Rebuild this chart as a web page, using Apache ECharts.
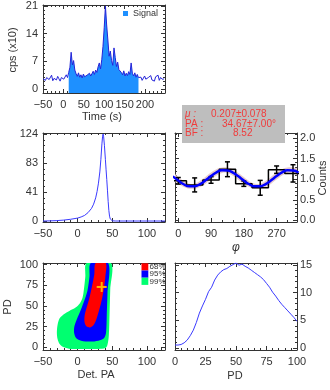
<!DOCTYPE html>
<html>
<head>
<meta charset="utf-8">
<script src="https://cdn.jsdelivr.net/npm/echarts@6/dist/echarts.min.js"></script>
<style>
  html, body { margin: 0; padding: 0; background: #fff; }
  #main { width: 330px; height: 390px; }
</style>
</head>
<body>
<div id="main"></div>
<script>
// light curve, 3 s bins starting at -50 s, units of 10 cps
const lcStart = -50;
const lcBin = 3;
const lcCounts = [
  2.6, 3.1, 2.2, 2.9, 3.3, 2.4, 2.8, 3.5, 2.1, 2.7, 3.0, 2.3, 3.2, 2.6, 2.0, 2.9, 3.4, 2.5, 2.8, 3.6, 2.9,
  4.2, 5.5, 9.3, 6.1, 7.2, 4.8, 3.9, 3.2, 4.1, 3.0, 3.6, 2.8, 3.8, 3.1, 2.6, 3.5, 3.0, 4.0, 3.3, 3.9,
  4.5, 3.7, 4.8, 4.2, 5.6, 6.6, 5.1, 7.4, 10.8, 15.5, 21.0, 16.2, 12.4, 8.3, 9.6, 7.2, 6.0, 10.4, 8.0, 5.7,
  6.8, 4.9, 5.4, 4.2, 3.6, 4.6, 3.3, 4.0, 3.4, 4.4, 3.7, 6.6, 4.0, 3.3, 4.1, 3.0, 3.7, 2.9,
  2.4, 3.0, 2.2, 2.7, 3.3, 2.5, 2.1, 2.9, 2.6, 3.4, 2.3, 2.8, 2.0, 3.1, 2.6, 3.5, 2.2, 2.9, 3.2, 2.4, 2.7
];
const signalRange = [12, 185];

// middle left curve
const kernX = [-50, -40, -30, -20, -10, 0, 5, 10, 15, 20, 23, 26, 28, 30, 32, 33.5, 35, 36, 36.7, 37.5,
  38.6, 40, 41, 42, 43, 44, 45, 46, 47, 48, 50, 55, 126];
const kernY = [0, 0.2, 0.6, 1.3, 2.5, 4.2, 5.8, 8, 12, 18, 24, 33, 42, 54, 70, 88, 110, 121, 124, 120,
  108, 88, 73, 59, 44, 28, 15, 7, 3, 1.2, 0.3, 0, 0];

// modulation curve
const histPhi = [0, 45, 90, 135, 180, 225, 270, 315];
const histVal = [0.96, 0.86, 0.98, 1.24, 0.89, 0.79, 1.23, 1.14];
const histErr = [0.08, 0.17, 0.08, 0.18, 0.065, 0.18, 0.09, 0.21];
const histHalf = 22.5;
const fitPhi = [-15, 0, 15, 30, 45, 60, 75, 90, 105, 120, 135, 150, 165, 180, 195, 210, 225, 240, 255, 270, 285, 300, 315, 330];
const fitVal = [1.068, 0.965, 0.876, 0.826, 0.828, 0.881, 0.972, 1.075, 1.164, 1.214, 1.212, 1.159,
  1.068, 0.965, 0.876, 0.826, 0.828, 0.881, 0.972, 1.075, 1.164, 1.214, 1.212, 1.159];
const bandLow = [0.98, 0.89, 0.81, 0.77, 0.77, 0.81, 0.89, 0.99, 1.09, 1.15, 1.15, 1.08,
  0.98, 0.89, 0.81, 0.77, 0.77, 0.81, 0.89, 0.99, 1.09, 1.15, 1.15, 1.08];
const bandHigh = [1.15, 1.05, 0.95, 0.89, 0.89, 0.96, 1.06, 1.16, 1.24, 1.28, 1.28, 1.24,
  1.15, 1.05, 0.95, 0.89, 0.89, 0.96, 1.06, 1.16, 1.24, 1.28, 1.28, 1.24];

// contours [Det. PA, PD]
const cont99 = [[13, 102], [11, 85], [9, 70], [7, 60], [3, 53], [-3, 48], [-12, 44], [-20, 40], [-26, 35],
  [-29, 27], [-30, 18], [-29, 10], [-26, 4], [-20, 0], [-10, -2], [10, -2], [30, -2], [40, -1], [43, 3],
  [45, 15], [46, 40], [47, 70], [48, 102]];
const cont95 = [[19, 102], [17, 85], [14, 68], [9, 55], [3, 42], [-2, 32], [-5, 24], [-5, 17], [-2, 11],
  [5, 8], [18, 7], [30, 8], [38, 11], [41, 18], [42, 40], [43, 65], [44, 102]];
const cont68 = [[26, 102], [24, 88], [21, 75], [17, 60], [13, 48], [10, 38], [10, 30], [13, 25], [18, 24],
  [23, 27], [27, 34], [31, 45], [35, 58], [38, 72], [40, 86], [40.5, 102]];
const bestFit = [34.67, 73];
const contNames = ['68%', '95%', '99%'];

// PD posterior, PD step 2.5
const pdStep = 2.5;
const pdProb = [0.5, 0.5, 0.6, 0.9, 1.4, 2.2, 3.2, 4.6, 6.3, 7.6, 8.8, 10.2, 11.0, 12.3, 13.2, 13.8, 14.2, 14.4,
  14.8, 15.1, 15.4, 15.0, 15.2, 14.8, 14.5, 14.1, 13.7, 13.3, 12.9, 12.4, 11.7, 11.0, 10.1, 9.4, 8.6, 7.9,
  7.3, 6.7, 6.1, 5.5, 4.8];

const FONT = 'Liberation Sans, Arial, sans-serif';
const axisColor = '#333';
const red = '#ff0000', blue = '#0000ff', green = '#00ff70';

function range(a, b, step) {
  const out = [];
  for (let v = a; v <= b + 1e-9; v += step) out.push(+v.toFixed(4));
  return out;
}

function minus(v) {
  return v < 0 ? '\u2212' + Math.abs(v) : String(v);
}

const xAxes = [], yAxes = [];

function addAxis(list, base, pos, ticks, len, line, label) {
  list.push(Object.assign({}, base, {
    position: pos,
    axisLine: { show: line, onZero: false, lineStyle: { color: axisColor, width: 1 } },
    axisTick: { show: true, inside: true, length: len, customValues: ticks, lineStyle: { color: axisColor, width: 1 } },
    axisLabel: label ? Object.assign({ show: true, customValues: ticks, fontSize: 11, color: '#333', fontFamily: FONT }, label) : { show: false },
    splitLine: { show: false }
  }));
  return list.length - 1;
}

// box with ticks on all four sides, like IDL plots
function frame(g, p) {
  const bx = { type: 'value', gridIndex: g, min: p.xr[0], max: p.xr[1] };
  const by = { type: 'value', gridIndex: g, min: p.yr[0], max: p.yr[1] };
  const xi = addAxis(xAxes, bx, 'bottom', p.xMajor, 4, true, { margin: 6, formatter: minus });
  addAxis(xAxes, bx, 'top', p.xMajor, 4, true, null);
  addAxis(xAxes, bx, 'bottom', p.xMinor, 2, false, null);
  addAxis(xAxes, bx, 'top', p.xMinor, 2, false, null);
  const yLab = { margin: p.yRight ? 3 : 5, formatter: p.yFmt || minus };
  const yi = addAxis(yAxes, by, 'left', p.yMajor, 4, true, p.yRight ? null : yLab);
  addAxis(yAxes, by, 'right', p.yMajor, 4, true, p.yRight ? yLab : null);
  addAxis(yAxes, by, 'left', p.yMinor, 2, false, null);
  addAxis(yAxes, by, 'right', p.yMinor, 2, false, null);
  return { xAxisIndex: xi, yAxisIndex: yi };
}

const grids = [
  { left: 43, top: 5, width: 122, height: 88 },
  { left: 43, top: 133, width: 122, height: 89 },
  { left: 175, top: 133, width: 122, height: 89 },
  { left: 43, top: 263, width: 122, height: 87 },
  { left: 175, top: 263, width: 122, height: 87 }
].map(g => Object.assign({ containLabel: false, outerBoundsMode: 'none' }, g));

const fLc = frame(0, { xr: [-50, 249], yr: [-1, 21.25], xMajor: range(-50, 200, 50), xMinor: range(-50, 240, 10),
  yMajor: [0, 7, 14, 21], yMinor: range(0, 21, 1) });
const fKern = frame(1, { xr: [-50, 126], yr: [-1.4, 125.5], xMajor: range(-50, 100, 50), xMinor: range(-50, 120, 10),
  yMajor: [0, 124 / 3, 248 / 3, 124], yMinor: range(0, 124, 124 / 15), yFmt: v => String(Math.round(v)) });
const fMod = frame(2, { xr: [-9, 326], yr: [-0.04, 2.12], xMajor: [0, 90, 180, 270], xMinor: range(0, 300, 30),
  yMajor: range(0, 2, 0.5), yMinor: range(0, 2.1, 0.1), yFmt: v => v.toFixed(1), yRight: true });
const fCon = frame(3, { xr: [-50, 126], yr: [-3.3, 102], xMajor: range(-50, 100, 50), xMinor: range(-50, 120, 10),
  yMajor: range(0, 100, 25), yMinor: range(0, 100, 5) });
const fPd = frame(4, { xr: [0, 100], yr: [-0.4, 15.4], xMajor: range(0, 100, 25), xMinor: range(0, 100, 5),
  yMajor: [0, 5, 10, 15], yMinor: range(0, 15, 1), yRight: true });

// series data built from the arrays above
const lcData = lcCounts.map((c, i) => [lcStart + i * lcBin, c]);
const sigData = lcData.map(d => (d[0] >= signalRange[0] && d[0] <= signalRange[1]) ? d : [d[0], null]);
const kernData = kernX.map((x, i) => [x, kernY[i]]);
const fitData = fitPhi.map((p, i) => [p, fitVal[i]]);
const bandPts = fitPhi.map((p, i) => [p, bandHigh[i]]).concat(fitPhi.map((p, i) => [p, bandLow[i]]).reverse());
const stepData = [];
histPhi.forEach((c, i) => {
  stepData.push([c - histHalf, histVal[i]]);
  stepData.push([c + histHalf, histVal[i]]);
});
const errData = histPhi.map((c, i) => [c, histVal[i] - histErr[i], histVal[i] + histErr[i]]);
const pdData = pdProb.map((v, i) => [i * pdStep, v]);

function polySeries(name, pts, color, axes, smooth) {
  return Object.assign({
    type: 'custom', name: name, silent: true, clip: true,
    data: [pts[0]],
    renderItem: function (params, api) {
      return {
        type: 'polygon',
        shape: { points: pts.map(p => api.coord(p)), smooth: smooth },
        style: { fill: color }
      };
    }
  }, axes);
}

const option = {
  animation: false,
  backgroundColor: '#fff',
  textStyle: { fontFamily: FONT },
  grid: grids,
  xAxis: xAxes,
  yAxis: yAxes,
  legend: {
    data: ['Signal'], left: 123, top: 9, icon: 'rect', itemWidth: 5, itemHeight: 5,
    textStyle: { fontSize: 9, color: '#333', fontFamily: FONT }, padding: 0
  },
  series: [
    Object.assign({
      type: 'line', name: 'Signal', data: sigData, showSymbol: false, connectNulls: false,
      itemStyle: { color: '#1e90ff' }, lineStyle: { width: 0 },
      areaStyle: { color: '#1e90ff', opacity: 1, origin: 'start' }
    }, fLc),
    Object.assign({
      type: 'line', data: lcData, showSymbol: false,
      lineStyle: { color: '#2424d8', width: 1 }
    }, fLc),
    Object.assign({
      type: 'line', data: kernData, showSymbol: false,
      lineStyle: { color: '#3a3aff', width: 1 }
    }, fKern),
    polySeries('band', bandPts, '#e6caca', fMod, 0.4),
    Object.assign({
      type: 'line', data: stepData, showSymbol: false,
      lineStyle: { color: '#000', width: 1.5 }
    }, fMod),
    Object.assign({
      type: 'line', data: fitData, showSymbol: false, smooth: true,
      lineStyle: { color: blue, width: 2.5 }
    }, fMod),
    Object.assign({
      type: 'custom', data: errData, encode: { x: 0, y: [1, 2] },
      renderItem: function (params, api) {
        const lo = api.coord([api.value(0), api.value(1)]);
        const hi = api.coord([api.value(0), api.value(2)]);
        const cap = 2.5;
        const st = { stroke: '#000', lineWidth: 1.5 };
        return {
          type: 'group', children: [
            { type: 'line', shape: { x1: lo[0], y1: lo[1], x2: hi[0], y2: hi[1] }, style: st },
            { type: 'line', shape: { x1: lo[0] - cap, y1: lo[1], x2: lo[0] + cap, y2: lo[1] }, style: st },
            { type: 'line', shape: { x1: hi[0] - cap, y1: hi[1], x2: hi[0] + cap, y2: hi[1] }, style: st }
          ]
        };
      }
    }, fMod),
    polySeries('99%', cont99, green, fCon, 0.3),
    polySeries('95%', cont95, blue, fCon, 0.3),
    polySeries('68%', cont68, red, fCon, 0.3),
    Object.assign({
      type: 'custom', data: [bestFit],
      renderItem: function (params, api) {
        const p = api.coord([api.value(0), api.value(1)]);
        const st = { stroke: '#ffb400', lineWidth: 2 };
        return {
          type: 'group', children: [
            { type: 'line', shape: { x1: p[0] - 5, y1: p[1], x2: p[0] + 5, y2: p[1] }, style: st },
            { type: 'line', shape: { x1: p[0], y1: p[1] - 5, x2: p[0], y2: p[1] + 5 }, style: st }
          ]
        };
      }
    }, fCon),
    Object.assign({
      type: 'line', data: pdData, showSymbol: false,
      lineStyle: { color: '#3a3aff', width: 1 }
    }, fPd)
  ],
  graphic: [
    // axis titles
    { type: 'text', x: 13, y: 50, rotation: Math.PI / 2, style: { text: 'cps (x10)', font: '11px ' + FONT, fill: '#333', align: 'center', verticalAlign: 'middle' } },
    { type: 'text', x: 102, y: 117, style: { text: 'Time (s)', font: '11px ' + FONT, fill: '#333', align: 'center', verticalAlign: 'middle' } },
    { type: 'text', x: 236, y: 248, style: { text: 'φ', font: 'italic 12px ' + FONT, fill: '#333', align: 'center', verticalAlign: 'middle' } },
    { type: 'text', x: 323, y: 178, rotation: Math.PI / 2, style: { text: 'Counts', font: '11px ' + FONT, fill: '#333', align: 'center', verticalAlign: 'middle' } },
    { type: 'text', x: 8, y: 307, rotation: Math.PI / 2, style: { text: 'PD', font: '11px ' + FONT, fill: '#333', align: 'center', verticalAlign: 'middle' } },
    { type: 'text', x: 96, y: 375, style: { text: 'Det. PA', font: '11px ' + FONT, fill: '#333', align: 'center', verticalAlign: 'middle' } },
    { type: 'text', x: 235, y: 376, style: { text: 'PD', font: '11px ' + FONT, fill: '#333', align: 'center', verticalAlign: 'middle' } },
    // fit result box
    { type: 'rect', z: 100, shape: { x: 182, y: 105, width: 103, height: 38 }, style: { fill: '#bebebe' } },
    { type: 'text', z: 101, x: 185, y: 114, style: { text: 'μ :', font: 'italic 10px ' + FONT, fill: '#f03c3c', verticalAlign: 'middle' } },
    { type: 'text', z: 101, x: 211, y: 114, style: { text: '0.207±0.078', font: '10px ' + FONT, fill: '#f03c3c', verticalAlign: 'middle' } },
    { type: 'text', z: 101, x: 185, y: 124, style: { text: 'PA :', font: '10px ' + FONT, fill: '#f03c3c', verticalAlign: 'middle' } },
    { type: 'text', z: 101, x: 222, y: 124, style: { text: '34.67±7.00°', font: '10px ' + FONT, fill: '#f03c3c', verticalAlign: 'middle' } },
    { type: 'text', z: 101, x: 185, y: 133.5, style: { text: 'BF :', font: '10px ' + FONT, fill: '#f03c3c', verticalAlign: 'middle' } },
    { type: 'text', z: 101, x: 233, y: 133.5, style: { text: '8.52', font: '10px ' + FONT, fill: '#f03c3c', verticalAlign: 'middle' } }
  ].concat([red, blue, green].map((c, i) => (
    { type: 'rect', z: 100, shape: { x: 141.5, y: 263.3 + i * 7.2, width: 6.8, height: 7.2 }, style: { fill: c } }
  ))).concat(contNames.map((t, i) => (
    { type: 'text', z: 100, x: 149.5, y: 267 + i * 7.2, style: { text: t, font: '8px ' + FONT, fill: '#333', verticalAlign: 'middle' } }
  )))
};

const chart = echarts.init(document.getElementById('main'));
chart.setOption(option);
</script>
</body>
</html>
